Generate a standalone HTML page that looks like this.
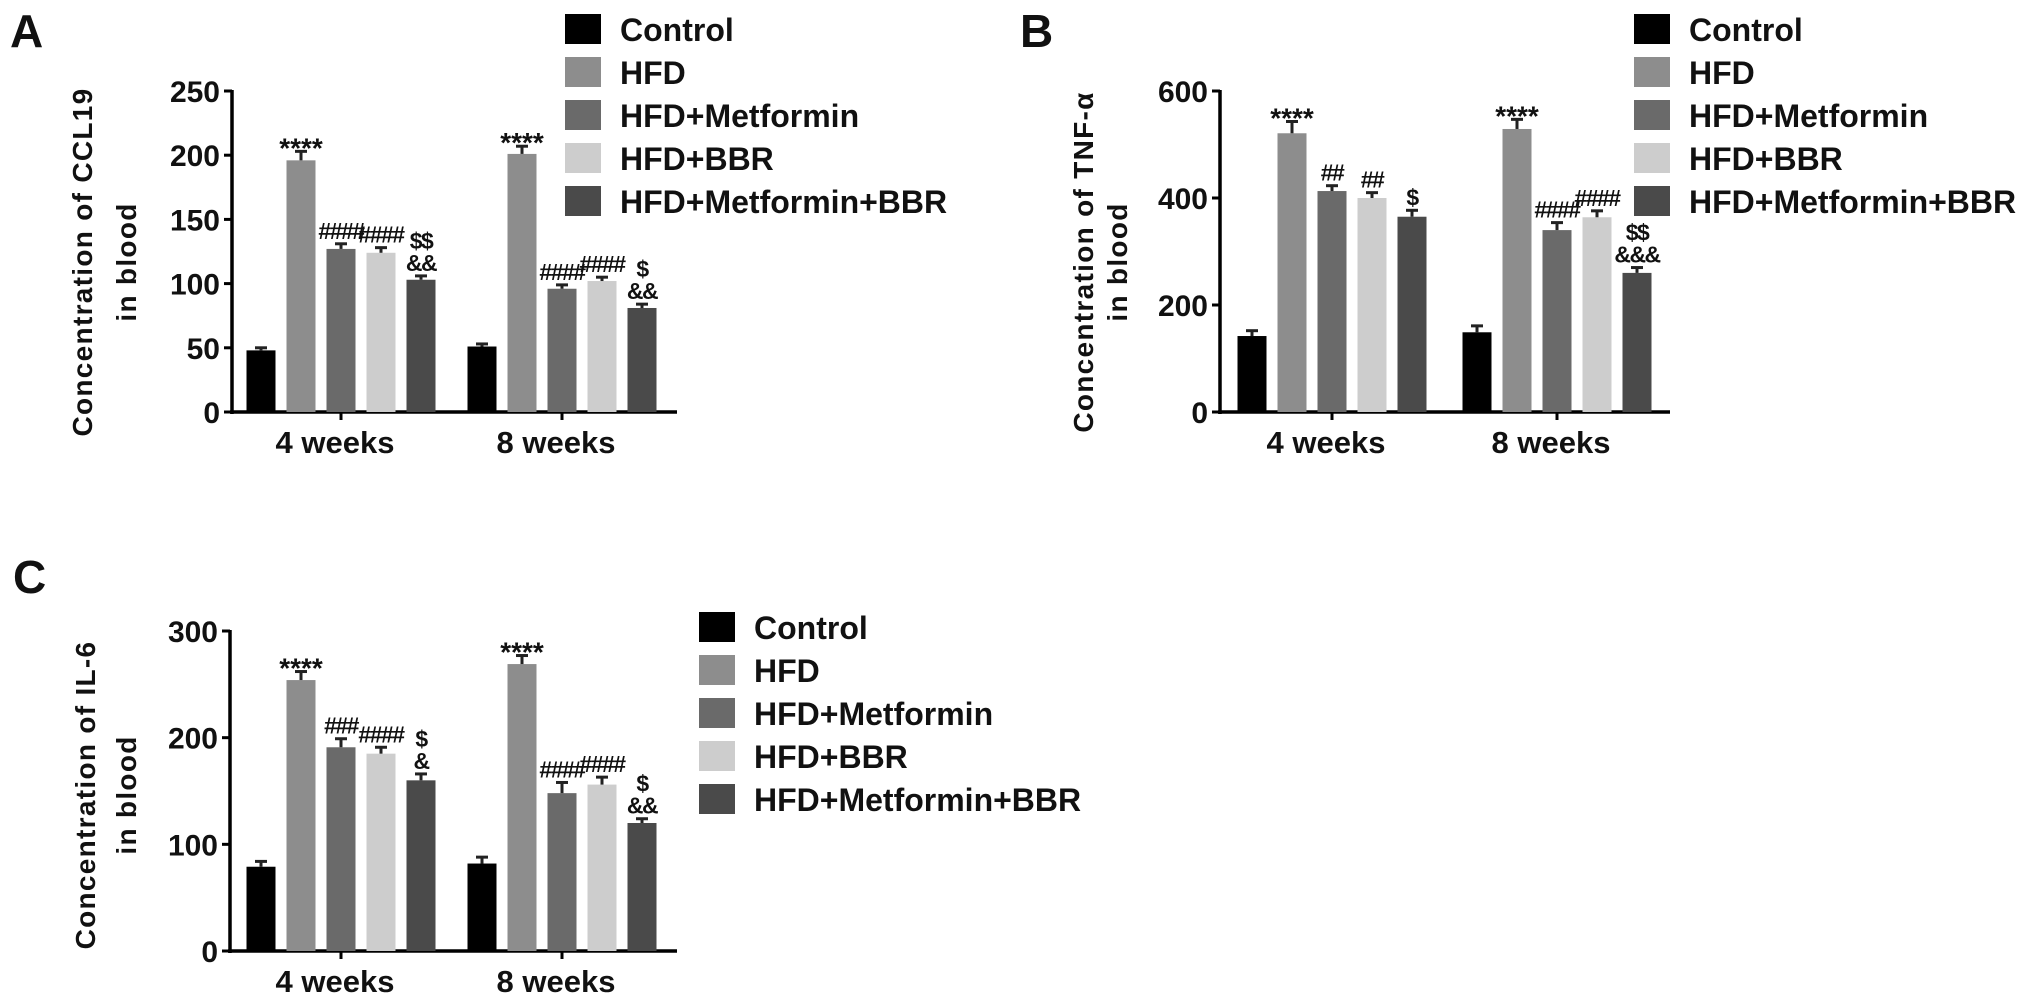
<!DOCTYPE html>
<html><head><meta charset="utf-8"><style>
html,body{margin:0;padding:0;background:#fff}
svg{display:block}
text{font-family:"Liberation Sans",Arial,sans-serif;font-weight:bold;fill:#111}
</style></head><body>
<svg id="fig" width="2031" height="1007" viewBox="0 0 2031 1007" xmlns="http://www.w3.org/2000/svg"></svg>
<script>
const categories = ["4 weeks", "8 weeks"];
const seriesNames = ["Control", "HFD", "HFD+Metformin", "HFD+BBR", "HFD+Metformin+BBR"];
const seriesColors = ["#000000", "#8d8d8d", "#6a6a6a", "#cdcdcd", "#4a4a4a"];

// Panel A: CCL19
const ccl19_4w = [48, 196, 127, 124, 103];
const ccl19_8w = [51, 201, 96, 102, 81];
const ccl19Err_4w = [2, 7, 4, 4, 3];
const ccl19Err_8w = [2, 6, 3, 3, 3];
const ccl19Ann_4w = ["", "****", "####", "####", "$$\n&&"];
const ccl19Ann_8w = ["", "****", "####", "####", "$\n&&"];
const ccl19Ticks = [0, 50, 100, 150, 200, 250];

// Panel B: TNF-alpha
const tnf_4w = [142, 521, 413, 400, 365];
const tnf_8w = [149, 529, 340, 364, 260];
const tnfErr_4w = [10, 22, 10, 10, 12];
const tnfErr_8w = [12, 18, 14, 12, 10];
const tnfAnn_4w = ["", "****", "##", "##", "$"];
const tnfAnn_8w = ["", "****", "####", "####", "$$\n&&&"];
const tnfTicks = [0, 200, 400, 600];

// Panel C: IL-6
const il6_4w = [79, 254, 191, 185, 160];
const il6_8w = [82, 269, 148, 156, 120];
const il6Err_4w = [5, 8, 8, 6, 6];
const il6Err_8w = [6, 8, 10, 7, 4];
const il6Ann_4w = ["", "****", "###", "####", "$\n&"];
const il6Ann_8w = ["", "****", "####", "####", "$\n&&"];
const il6Ticks = [0, 100, 200, 300];

const NS = "http://www.w3.org/2000/svg";
const svg = document.getElementById("fig");
function mk(tag, attrs, parent, txt) {
  const e = document.createElementNS(NS, tag);
  for (const k in attrs) e.setAttribute(k, attrs[k]);
  if (txt !== undefined) e.textContent = txt;
  (parent || svg).appendChild(e);
  return e;
}

function drawPanel(p) {
  const g = mk("g", {});
  
  
  const y = v => p.y0 - (v - 0) / p.yMax * (p.y0 - p.yTop);
  const lt = mk("text", {x: p.letterX, y: p.letterY, "font-size": 46}, g, p.letter);
  
  
  const ya = mk("line", {x1: p.ax, x2: p.ax, y1: y(p.ticks[p.ticks.length-1]) - 1, y2: p.y0 + 2, stroke: "#000", "stroke-width": 3.5}, g);
  
  
  p.ticks.forEach(t => {
    mk("line", {x1: p.ax - 8, x2: p.ax, y1: y(t), y2: y(t), stroke: "#000", "stroke-width": 3}, g);
    const tl = mk("text", {x: p.ax - 12, y: y(t) + 11, "font-size": 30, "text-anchor": "end"}, g, String(t));
    
    
  });
  const xa = mk("line", {x1: p.ax - 2, x2: p.axEnd, y1: p.y0, y2: p.y0, stroke: "#000", "stroke-width": 3.5}, g);
  
  
  const tt = mk("text", {transform: `translate(${p.t1x},${p.tcy}) rotate(-90)`, "font-size": 28, "text-anchor": "middle", "letter-spacing": 1.3}, g, p.title1);
  
  
  const tt2 = mk("text", {transform: `translate(${p.t2x},${p.tcy}) rotate(-90)`, "font-size": 28, "text-anchor": "middle", "letter-spacing": 1.3}, g, "in blood");
  
  
  const pitch = 40, bw = 29;
  categories.forEach((cat, ci) => {
    const cx = p.groupX[ci];
    mk("line", {x1: cx, x2: cx, y1: p.y0, y2: p.y0 + 8, stroke: "#000", "stroke-width": 3}, g);
    const cl = mk("text", {x: cx - 6, y: p.y0 + 41, "font-size": 31, "text-anchor": "middle"}, g, cat);
    
    
    const vals = p.values[ci], errs = p.errs[ci], anns = p.anns[ci];
    vals.forEach((v, si) => {
      const bx = cx + (si - 2) * pitch - bw / 2;
      const top = y(v);
      const r = mk("rect", {x: bx, y: top, width: bw, height: p.y0 - top, fill: seriesColors[si]}, g);
      
      
      const et = y(v + errs[si]);
      mk("line", {x1: bx + bw/2, x2: bx + bw/2, y1: et, y2: top, stroke: "#222", "stroke-width": 3}, g);
      mk("line", {x1: bx + bw/2 - 6, x2: bx + bw/2 + 6, y1: et, y2: et, stroke: "#222", "stroke-width": 3}, g);
      if (anns[si]) {
        const lines = anns[si].split("\n");
        lines.forEach((ln, li) => {
          const isStar = ln.indexOf("*") >= 0;
          const by = et - 5 - (lines.length - 1 - li) * 22 + (isStar ? 11 : 0);
          const at = mk("text", {x: bx + bw/2, y: by, "font-size": isStar ? 28 : 23, "text-anchor": "middle", "letter-spacing": isStar ? 0 : -1.5}, g, ln);
          
          
        });
      }
    });
  });
  seriesNames.forEach((nm, si) => {
    const ly = p.legTop + si * 43;
    const sq = mk("rect", {x: p.legX, y: ly, width: 36, height: 30, fill: seriesColors[si]}, g);
    
    
    const lt2 = mk("text", {x: p.legX + 55, y: ly + 27, "font-size": 32}, g, nm);
    
    
  });
}

drawPanel({id: "a", letter: "A", letterX: 10, letterY: 47, ax: 232, axEnd: 677, y0: 412, yTop: 91, yMax: 250,
  ticks: ccl19Ticks, groupX: [341, 562], values: [ccl19_4w, ccl19_8w], errs: [ccl19Err_4w, ccl19Err_8w], anns: [ccl19Ann_4w, ccl19Ann_8w],
  title1: "Concentration of CCL19", t1x: 92, t2x: 136, tcy: 262, legX: 565, legTop: 14});
drawPanel({id: "b", letter: "B", letterX: 1020, letterY: 47, ax: 1220, axEnd: 1670, y0: 412, yTop: 91, yMax: 600,
  ticks: tnfTicks, groupX: [1332, 1557], values: [tnf_4w, tnf_8w], errs: [tnfErr_4w, tnfErr_8w], anns: [tnfAnn_4w, tnfAnn_8w],
  title1: "Concentration of TNF-\u03b1", t1x: 1093, t2x: 1127, tcy: 262, legX: 1634, legTop: 14});
drawPanel({id: "c", letter: "C", letterX: 13, letterY: 593, ax: 230, axEnd: 677, y0: 951, yTop: 631, yMax: 300,
  ticks: il6Ticks, groupX: [341, 562], values: [il6_4w, il6_8w], errs: [il6Err_4w, il6Err_8w], anns: [il6Ann_4w, il6Ann_8w],
  title1: "Concentration of IL-6", t1x: 95, t2x: 136, tcy: 795, legX: 699, legTop: 612});
</script>
</body></html>
